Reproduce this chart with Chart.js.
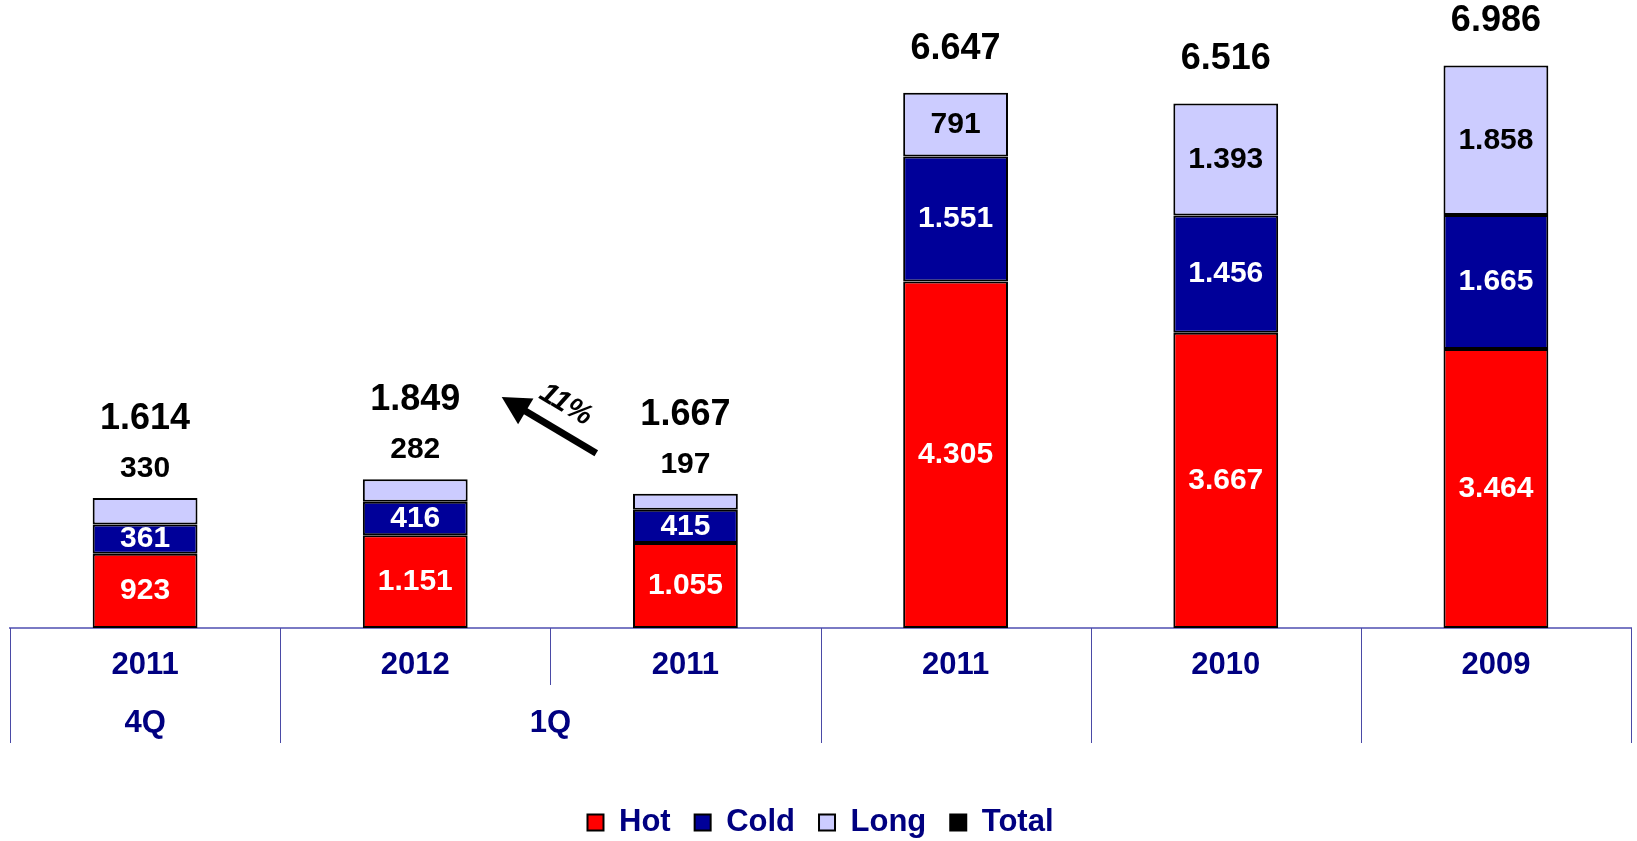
<!DOCTYPE html>
<html>
<head>
<meta charset="utf-8">
<script src="https://cdn.jsdelivr.net/npm/chart.js@4.4.1/dist/chart.umd.min.js"></script>
<style>
  html, body { margin: 0; padding: 0; background: #fff; }
  #wrap { width: 1637px; height: 841px; }
</style>
</head>
<body>
<div id="wrap"><canvas id="chart" width="1637" height="841"></canvas></div>
<script>
// categories (years) and the period groups under them
const years = ['2011', '2012', '2011', '2011', '2010', '2009'];
const periodLabels = ['4Q', '1Q'];
const periodFrom = [0, 1];
const periodTo = [0, 2];

// series values
const hot = [923, 1151, 1055, 4305, 3667, 3464];
const cold = [361, 416, 415, 1551, 1456, 1665];
const long = [330, 282, 197, 791, 1393, 1858];
const total = [1614, 1849, 1667, 6647, 6516, 6986];

// growth arrow between 1Q 2011 and 1Q 2012
const growthLabel = '11%';
const arrowFrom = [1.67, 2170];
const arrowTo = [1.32, 2870];

const FONT = "'Liberation Sans', Arial, sans-serif";
const NAVY = '#000080';

function fmt(n) {
  return String(n).replace(/\B(?=(\d{3})+(?!\d))/g, '.');
}

const extras = {
  id: 'extras',
  afterDatasetsDraw(chart) {
    const ctx = chart.ctx;
    const xs = chart.scales.x, ys = chart.scales.y;
    const area = chart.chartArea;
    ctx.save();
    ctx.textAlign = 'center';
    ctx.textBaseline = 'middle';

    // labels in the segments (long goes above when too thin)
    const topMeta = chart.getDatasetMeta(2);
    [0, 1, 2].forEach(di => {
      const meta = chart.getDatasetMeta(di);
      meta.data.forEach((bar, i) => {
        const h = bar.base - bar.y;
        const v = chart.data.datasets[di].data[i];
        let ty = (bar.y + bar.base) / 2;
        const col = di === 2 ? '#000' : '#fff';
        if (di === 2 && h < 40) ty = bar.y - 29;
        ctx.font = 'bold 30px ' + FONT;
        ctx.fillStyle = col;
        ctx.fillText(fmt(v), bar.x, ty);
      });
    });

    // totals
    topMeta.data.forEach((bar, i) => {
      const small = (bar.base - bar.y) < 40;
      ctx.font = 'bold 36px ' + FONT;
      ctx.fillStyle = '#000';
      ctx.fillText(fmt(total[i]), bar.x, bar.y - (small ? 79 : 44));
    });

    // separators under the axis
    ctx.strokeStyle = '#4a4aa6';
    ctx.lineWidth = 1;
    for (let i = 0; i <= years.length; i++) {
      const px = Math.round(xs.getPixelForValue(i - 0.5)) + 0.5;
      let inner = false;
      periodFrom.forEach((f, k) => { if (i > f && i <= periodTo[k]) inner = true; });
      ctx.beginPath();
      ctx.moveTo(px, area.bottom);
      ctx.lineTo(px, area.bottom + (inner ? 57 : 115));
      ctx.stroke();
    }

    // period labels
    ctx.font = 'bold 31px ' + FONT;
    ctx.fillStyle = NAVY;
    periodLabels.forEach((t, k) => {
      const cx = (xs.getPixelForValue(periodFrom[k]) + xs.getPixelForValue(periodTo[k])) / 2;
      ctx.fillText(t, cx, area.bottom + 95);
    });

    // growth arrow
    const x0 = xs.getPixelForValue(arrowFrom[0]), y0 = ys.getPixelForValue(arrowFrom[1]);
    const x1 = xs.getPixelForValue(arrowTo[0]), y1 = ys.getPixelForValue(arrowTo[1]);
    const len = Math.hypot(x1 - x0, y1 - y0);
    const dx = (x1 - x0) / len, dy = (y1 - y0) / len;
    const headLen = 28, headW = 15;
    const bx = x1 - dx * headLen, by = y1 - dy * headLen;
    ctx.strokeStyle = '#000';
    ctx.fillStyle = '#000';
    ctx.lineWidth = 7;
    ctx.beginPath();
    ctx.moveTo(x0, y0);
    ctx.lineTo(bx + dx * 2, by + dy * 2);
    ctx.stroke();
    ctx.beginPath();
    ctx.moveTo(x1, y1);
    ctx.lineTo(bx - dy * headW, by + dx * headW);
    ctx.lineTo(bx + dy * headW, by - dx * headW);
    ctx.closePath();
    ctx.fill();

    const mx = (x0 + x1) / 2 - dx * 4 + (-dy) * 26;
    const my = (y0 + y1) / 2 - dy * 4 + dx * 26;
    ctx.translate(mx, my);
    ctx.rotate(Math.atan2(-dy, -dx));
    ctx.font = 'italic bold 29px ' + FONT;
    ctx.fillText(growthLabel, 0, 0);
    ctx.restore();
  }
};

const barCommon = {
  borderColor: '#000',
  borderWidth: 2,
  borderSkipped: false,
  categoryPercentage: 1,
  barPercentage: 0.388,
  stack: 'main'
};

new Chart(document.getElementById('chart'), {
  type: 'bar',
  data: {
    labels: years,
    datasets: [
      Object.assign({ label: 'Hot', data: hot, backgroundColor: '#ff0000' }, barCommon),
      Object.assign({ label: 'Cold', data: cold, backgroundColor: '#000099' }, barCommon),
      Object.assign({ label: 'Long', data: long, backgroundColor: '#ccccff' }, barCommon),
      {
        type: 'line',
        label: 'Total',
        data: total,
        stack: 'totals',
        showLine: false,
        pointRadius: 0,
        pointHoverRadius: 0,
        backgroundColor: '#000',
        borderColor: '#000',
        borderWidth: 2
      }
    ]
  },
  options: {
    responsive: false,
    animation: false,
    devicePixelRatio: 1,
    layout: { padding: { left: 10, right: 6, top: 0, bottom: -7 } },
    scales: {
      x: {
        stacked: true,
        grid: { display: false, drawTicks: false },
        border: { display: true, color: '#7a7ac4', width: 2 },
        ticks: {
          color: NAVY,
          font: { family: FONT, size: 31, weight: 'bold' },
          padding: 19,
          maxRotation: 0,
          autoSkip: false
        },
        afterFit(scale) { scale.height = 155; }
      },
      y: {
        stacked: true,
        display: false,
        min: 0,
        max: 7800
      }
    },
    plugins: {
      legend: {
        position: 'bottom',
        labels: {
          color: NAVY,
          font: { family: FONT, size: 31, weight: 'bold' },
          boxWidth: 16,
          boxHeight: 16,
          padding: 24
        }
      },
      tooltip: { enabled: false }
    }
  },
  plugins: [extras]
});
</script>
</body>
</html>
